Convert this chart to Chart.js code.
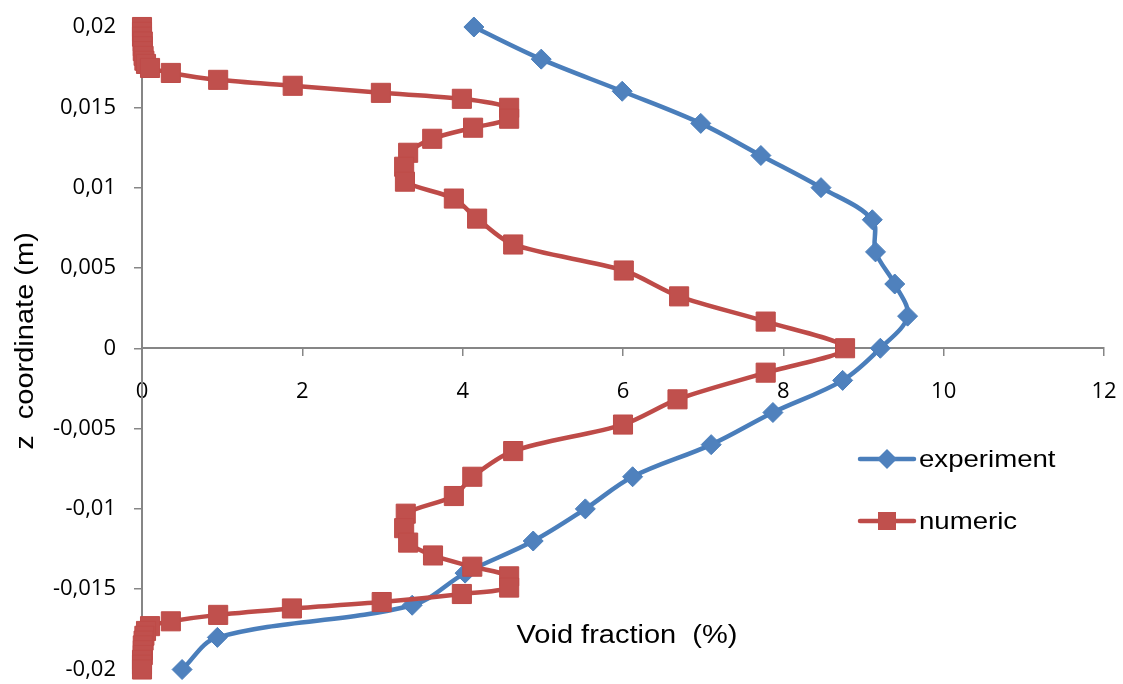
<!DOCTYPE html>
<html>
<head>
<meta charset="utf-8">
<script src="https://cdn.jsdelivr.net/npm/chart.js@4/dist/chart.umd.min.js"></script>
<style>
  html, body { margin: 0; padding: 0; background: #ffffff; }
  #wrap { width: 1123px; height: 684px; }
</style>
</head>
<body>
<div id="wrap"><canvas id="chart" width="1123" height="684"></canvas></div>
<script>
// Measured void fraction profile across the channel height
const zExperiment = [0.020, 0.018, 0.016, 0.014, 0.012, 0.010, 0.008, 0.006, 0.004, 0.002, 0.000,
  -0.002, -0.004, -0.006, -0.008, -0.010, -0.012, -0.014, -0.016, -0.018, -0.020];
const voidExperiment = [4.14, 4.98, 5.99, 6.97, 7.72, 8.47, 9.11, 9.15, 9.39, 9.55, 9.21,
  8.74, 7.87, 7.10, 6.12, 5.53, 4.88, 4.03, 3.37, 0.94, 0.50];

// Simulated void fraction profile
const zNumeric = [0.0200, 0.0197, 0.0194, 0.0191, 0.0188, 0.0185, 0.0182, 0.0179, 0.0177,
  0.01745, 0.01714, 0.01671, 0.01634, 0.0159, 0.01553, 0.01497, 0.01429, 0.01373, 0.01304,
  0.01217, 0.0113, 0.01037, 0.00932, 0.00807, 0.00646, 0.00484, 0.00323, 0.00166, 0.0000,
  -0.00152, -0.00318, -0.00475, -0.0064, -0.0080, -0.0092, -0.0103, -0.0112, -0.0121,
  -0.0129, -0.0136, -0.0142, -0.0149, -0.0153, -0.0158, -0.0162, -0.0166, -0.0170, -0.0173,
  -0.0176, -0.0179, -0.0182, -0.0185, -0.0188, -0.0191, -0.0194, -0.0197, -0.0200];
const voidNumeric = [0.00, 0.00, 0.00, 0.01, 0.01, 0.01, 0.02, 0.03, 0.05,
  0.10, 0.36, 0.95, 1.88, 2.98, 3.99, 4.58, 4.58, 4.13, 3.62,
  3.32, 3.27, 3.28, 3.89, 4.18, 4.63, 6.01, 6.70, 7.78, 8.77,
  7.78, 6.68, 6.00, 4.63, 4.12, 3.89, 3.29, 3.27, 3.32,
  3.63, 4.12, 4.58, 4.58, 3.99, 2.99, 1.87, 0.95, 0.36, 0.10,
  0.05, 0.03, 0.02, 0.01, 0.01, 0.01, 0.00, 0.00, 0.00];

const voidTicks = [0, 2, 4, 6, 8, 10, 12];
const zTicks = [0.02, 0.015, 0.01, 0.005, 0, -0.005, -0.01, -0.015, -0.02];

const seriesNames = ['experiment', 'numeric'];
const xTitle = 'Void fraction  (%)';
const yTitle = 'z  coordinate (m)';

const BLUE_LINE = '#4A7EBB', BLUE_FILL = '#4F81BD';
const RED_LINE = '#BE4B48', RED_FILL = '#C0504D';
const AXIS_GREY = '#868686';

function toPoints(xs, ys) { return xs.map((v, i) => ({ x: v, y: ys[i] })); }
function commaNumber(v) { return String(Number(v.toFixed(4))).replace('.', ','); }

// keep the plot rectangle fixed: scales add no extra margins
function noScalePadding(s) {
  s.paddingLeft = 0; s.paddingRight = 0; s.paddingTop = 0; s.paddingBottom = 0;
}

// Text drawn slightly wider than the face's natural width
function wideText(ctx, text, x, y, sx, align) {
  ctx.save();
  ctx.translate(x, y);
  ctx.scale(sx, 1);
  ctx.textAlign = align;
  ctx.fillText(text, 0, 0);
  ctx.restore();
}

const annotations = {
  id: 'annotations',
  afterDraw(chart) {
    const ctx = chart.ctx;
    ctx.save();
    ctx.fillStyle = '#000';
    ctx.textBaseline = 'alphabetic';

    // horizontal axis title
    ctx.font = '25px "Liberation Sans", Arial, sans-serif';
    wideText(ctx, xTitle, 627, 643, 1.16, 'center');

    // vertical axis title
    ctx.save();
    ctx.translate(33, 341);
    ctx.rotate(-Math.PI / 2);
    ctx.scale(1.16, 1);
    ctx.textAlign = 'center';
    ctx.fillText(yTitle, 0, 0);
    ctx.restore();

    // legend
    const entries = [
      { y: 459, line: BLUE_LINE, fill: BLUE_FILL, shape: 'diamond' },
      { y: 521, line: RED_LINE, fill: RED_FILL, shape: 'square' }
    ];
    entries.forEach((e, i) => {
      ctx.strokeStyle = e.line;
      ctx.lineWidth = 4.5;
      ctx.lineCap = 'round';
      ctx.beginPath();
      ctx.moveTo(860, e.y);
      ctx.lineTo(914, e.y);
      ctx.stroke();
      ctx.fillStyle = e.fill;
      ctx.beginPath();
      if (e.shape === 'diamond') {
        ctx.moveTo(887, e.y - 10); ctx.lineTo(897, e.y); ctx.lineTo(887, e.y + 10); ctx.lineTo(877, e.y);
      } else {
        ctx.rect(878, e.y - 9, 18, 18);
      }
      ctx.closePath();
      ctx.fill();
      ctx.fillStyle = '#000';
      ctx.font = '24px "Liberation Sans", Arial, sans-serif';
      wideText(ctx, seriesNames[i], 919, e.y + 8, 1.15, 'left');
    });
    ctx.restore();
  }
};

new Chart(document.getElementById('chart'), {
  type: 'scatter',
  data: {
    datasets: [
      {
        label: seriesNames[0],
        data: toPoints(voidExperiment, zExperiment),
        showLine: true,
        tension: 0.35,
        borderColor: BLUE_LINE,
        borderWidth: 4.5,
        backgroundColor: BLUE_FILL,
        pointStyle: 'rectRot',
        pointRadius: 10,
        pointBorderWidth: 1,
        pointBorderColor: BLUE_LINE,
        pointBackgroundColor: BLUE_FILL,
        clip: false,
        order: 1
      },
      {
        label: seriesNames[1],
        data: toPoints(voidNumeric, zNumeric),
        showLine: true,
        tension: 0.3,
        borderColor: RED_LINE,
        borderWidth: 4.5,
        backgroundColor: RED_FILL,
        pointStyle: 'rect',
        pointRadius: 13.5,
        pointBorderWidth: 1,
        pointBorderColor: RED_LINE,
        pointBackgroundColor: RED_FILL,
        clip: false,
        order: 0
      }
    ]
  },
  options: {
    responsive: false,
    animation: false,
    devicePixelRatio: 1,
    layout: { padding: { left: 0, right: 19, top: 27, bottom: 14 } },
    plugins: { legend: { display: false }, tooltip: { enabled: false } },
    scales: {
      x: {
        type: 'linear',
        position: { y: 0 },
        min: 0,
        max: 12,
        afterBuildTicks: s => { s.ticks = voidTicks.map(v => ({ value: v })); },
        afterFit: s => { s.height = 0; noScalePadding(s); },
        grid: { display: true, drawOnChartArea: false, drawTicks: true, tickLength: 7, color: AXIS_GREY, lineWidth: 1.5 },
        border: { display: true, color: AXIS_GREY, width: 2 },
        ticks: {
          color: '#000',
          font: { family: '"Open Sans", sans-serif', size: 22 },
          padding: 23,
          maxRotation: 0,
          autoSkip: false,
          callback: v => commaNumber(v)
        }
      },
      y: {
        type: 'linear',
        position: 'left',
        min: -0.02,
        max: 0.02,
        afterBuildTicks: s => { s.ticks = zTicks.map(v => ({ value: v })); },
        afterFit: s => { s.width = 142; noScalePadding(s); },
        grid: { display: true, drawOnChartArea: false, drawTicks: true, tickLength: 8, color: AXIS_GREY, lineWidth: 1.5 },
        border: { display: true, color: AXIS_GREY, width: 2 },
        ticks: {
          color: '#000',
          font: { family: '"Open Sans", sans-serif', size: 22 },
          padding: 18,
          autoSkip: false,
          callback: v => commaNumber(v)
        }
      }
    }
  },
  plugins: [annotations]
});
</script>
</body>
</html>
